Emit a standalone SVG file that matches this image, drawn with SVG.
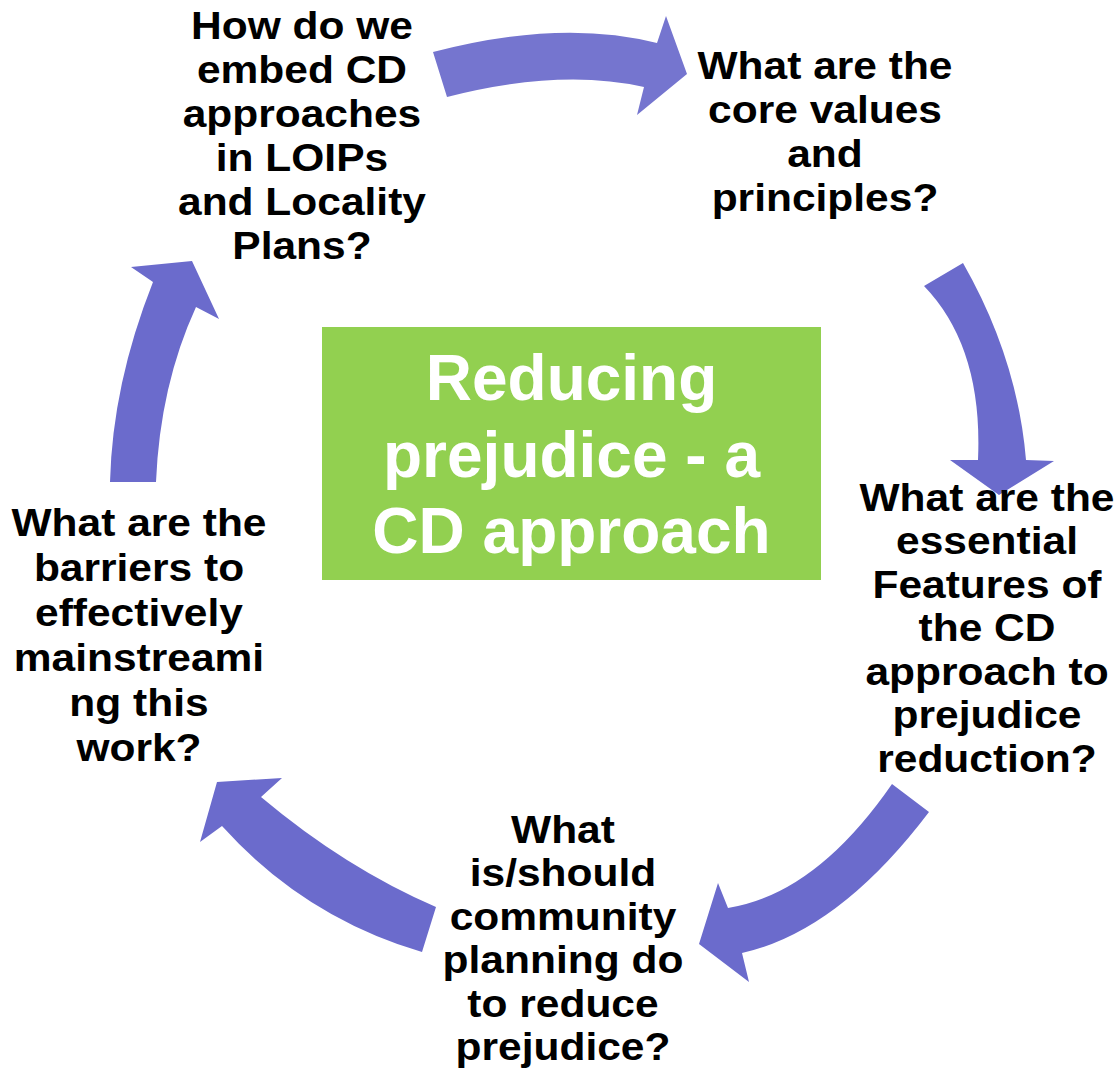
<svg xmlns="http://www.w3.org/2000/svg" width="1117" height="1071" viewBox="0 0 1117 1071">
<style>
.q{font-family:"Liberation Sans",Arial,sans-serif;font-weight:bold;font-size:39px;fill:#000;text-anchor:middle}
.t{font-family:"Liberation Sans",Arial,sans-serif;font-weight:bold;font-size:64px;fill:#fff;text-anchor:middle}
.arr{fill:#6B6BCC;stroke:none}
</style>
<rect width="1117" height="1071" fill="#fff"/>
<g id="connectors">
<path class="arr" style="fill:#7575CF" d="M433,52 Q561,18.5 657,43 L666,16 L687,74 L637,115 L644,87 Q560.5,68 447,97 Z"/>
<path class="arr" d="M963,263 Q1017.5,358.5 1026,460 L1054,461 L999,495 L950,460 L978,460 Q983,347 924,286 Z"/>
<path class="arr" d="M892,784 Q816,894 728,908 L718,883 L699,944 L749,982 L742,953 Q838.5,931.5 929,812 Z"/>
<path class="arr" d="M436,907 Q345.5,868 261,797 L282,778 L217,782 L200,842 L222,826 Q304,917 422,952 Z"/>
<path class="arr" d="M110,482 Q112.5,384 153,282 L131,267 L192,261 L219,319 L196,307 Q160,385.5 156,482 Z"/>
</g>
<g id="center">
<rect x="322" y="327" width="499" height="253" fill="#92D050"/>
<text class="t" x="571.5" y="400">Reducing</text>
<text class="t" x="571.5" y="477">prejudice - a</text>
<text class="t" x="571.5" y="553">CD approach</text>
</g>
<g id="node-embed" transform="matrix(1.09 0 0 1 -27.2 0)">
<text class="q" x="302" y="39">How do we</text>
<text class="q" x="302" y="83">embed CD</text>
<text class="q" x="302" y="127">approaches</text>
<text class="q" x="302" y="171">in LOIPs</text>
<text class="q" x="302" y="215">and Locality</text>
<text class="q" x="302" y="259">Plans?</text>
</g>
<g id="node-values" transform="matrix(1.09 0 0 1 -74.25 0)">
<text class="q" x="825" y="79">What are the</text>
<text class="q" x="825" y="123">core values</text>
<text class="q" x="825" y="167">and</text>
<text class="q" x="825" y="211">principles?</text>
</g>
<g id="node-features" transform="matrix(1.09 0 0 1 -88.83 0)">
<text class="q" x="987" y="511">What are the</text>
<text class="q" x="987" y="554.5">essential</text>
<text class="q" x="987" y="598">Features of</text>
<text class="q" x="987" y="641.5">the CD</text>
<text class="q" x="987" y="685">approach to</text>
<text class="q" x="987" y="728.5">prejudice</text>
<text class="q" x="987" y="772">reduction?</text>
</g>
<g id="node-planning" transform="matrix(1.09 0 0 1 -50.67 0)">
<text class="q" x="563" y="843">What</text>
<text class="q" x="563" y="886.5">is/should</text>
<text class="q" x="563" y="930">community</text>
<text class="q" x="563" y="973.5">planning do</text>
<text class="q" x="563" y="1017">to reduce</text>
<text class="q" x="563" y="1060.5">prejudice?</text>
</g>
<g id="node-barriers" transform="matrix(1.09 0 0 1 -12.51 0)">
<text class="q" x="139" y="536">What are the</text>
<text class="q" x="139" y="581">barriers to</text>
<text class="q" x="139" y="626">effectively</text>
<text class="q" x="139" y="671">mainstreami</text>
<text class="q" x="139" y="716">ng this</text>
<text class="q" x="139" y="761">work?</text>
</g>
</svg>
